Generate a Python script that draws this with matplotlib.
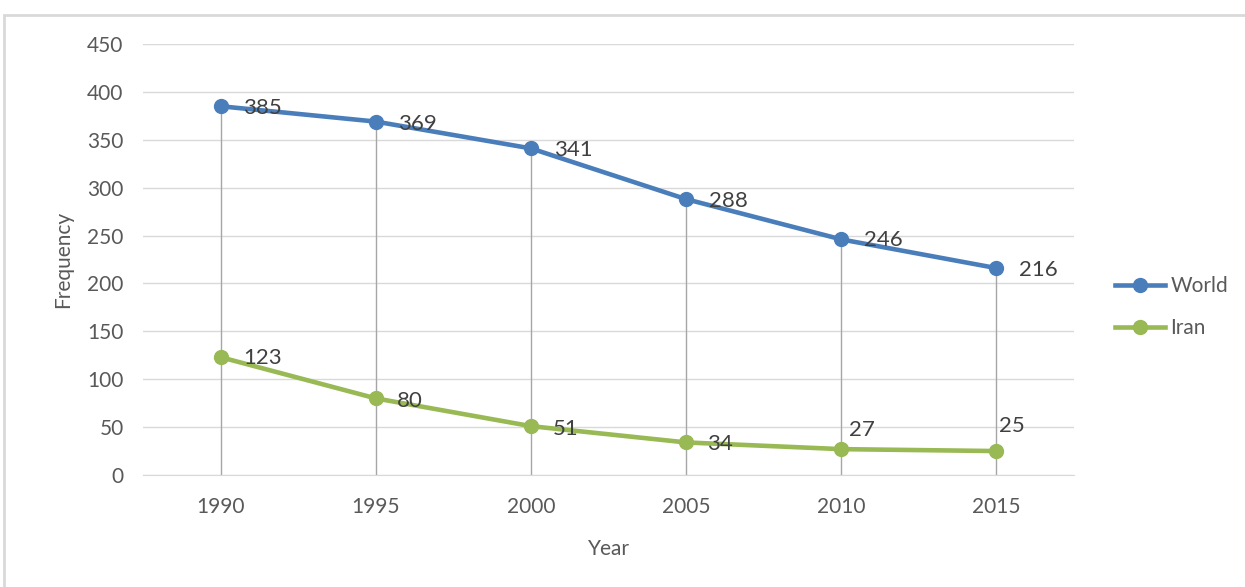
import matplotlib.pyplot as plt
from matplotlib.patches import Rectangle

years = ['1990', '1995', '2000', '2005', '2010', '2015']
world = [385, 369, 341, 288, 246, 216]
iran = [123, 80, 51, 34, 27, 25]

# label offsets in pixels (dx, dy downward) relative to the point
world_off = [(42, 2), (42, 2), (42, 2), (42, 2), (42, 1), (42, 2)]
iran_off = [(42, 1), (34, 3), (35, 3), (34, 2), (21, -19), (15, -25)]

plt.rcParams['font.family'] = ['Lato', 'DejaVu Sans']
blue = '#4a7ebb'
green = '#98b954'
text_col = '#595959'

fig = plt.figure(figsize=(12.45, 5.87), dpi=100)
ax = fig.add_axes([143 / 1245, 1 - 475 / 587, (1074 - 143) / 1245, (475 - 44) / 587])

x = list(range(len(years)))
# drop lines
ax.vlines(x, 0, world, color='#a6a6a6', linewidth=1, zorder=1)
ax.plot(x, world, color=blue, linewidth=3.3, marker='o', markersize=10, label='World', zorder=3)
ax.plot(x, iran, color=green, linewidth=3.3, marker='o', markersize=10, label='Iran', zorder=3)

for series, offs in ((world, world_off), (iran, iran_off)):
    for xi, v, (dx, dy) in zip(x, series, offs):
        ax.annotate(str(v), (xi, v), xytext=(dx * 0.72, -dy * 0.72), textcoords='offset points',
                    ha='center', va='center', fontsize=16, color='#404040', zorder=4)

ax.set_xlim(-0.5, len(years) - 0.5)
ax.set_ylim(0, 450)
ax.set_yticks(range(0, 451, 50))
ax.set_xticks(x)
ax.set_xticklabels(years)
ax.grid(axis='y', color='#d9d9d9', linewidth=1)
ax.set_axisbelow(True)
for s in ['top', 'right', 'left']:
    ax.spines[s].set_visible(False)
ax.spines['bottom'].set_color('#d9d9d9')
ax.tick_params(length=0, labelsize=15, colors=text_col)
ax.tick_params(axis='x', pad=16)
ax.tick_params(axis='y', pad=14)
ax.set_xlabel('Year', fontsize=15, color=text_col, labelpad=16)
ax.set_ylabel('Frequency', fontsize=15, color=text_col, labelpad=10)

ax.legend(loc='center left', bbox_to_anchor=(1.024, 0.39), frameon=False, fontsize=15,
          labelcolor=text_col, handlelength=2.4, handletextpad=0.25, labelspacing=1.05)

# outer frame
fig.add_artist(Rectangle((4 / 1245, -0.1), 1.2, 1 - 15 / 587 + 0.1, transform=fig.transFigure,
                         fill=False, edgecolor='#d9d9d9', linewidth=2))

fig.savefig('out.png', dpi=100)
